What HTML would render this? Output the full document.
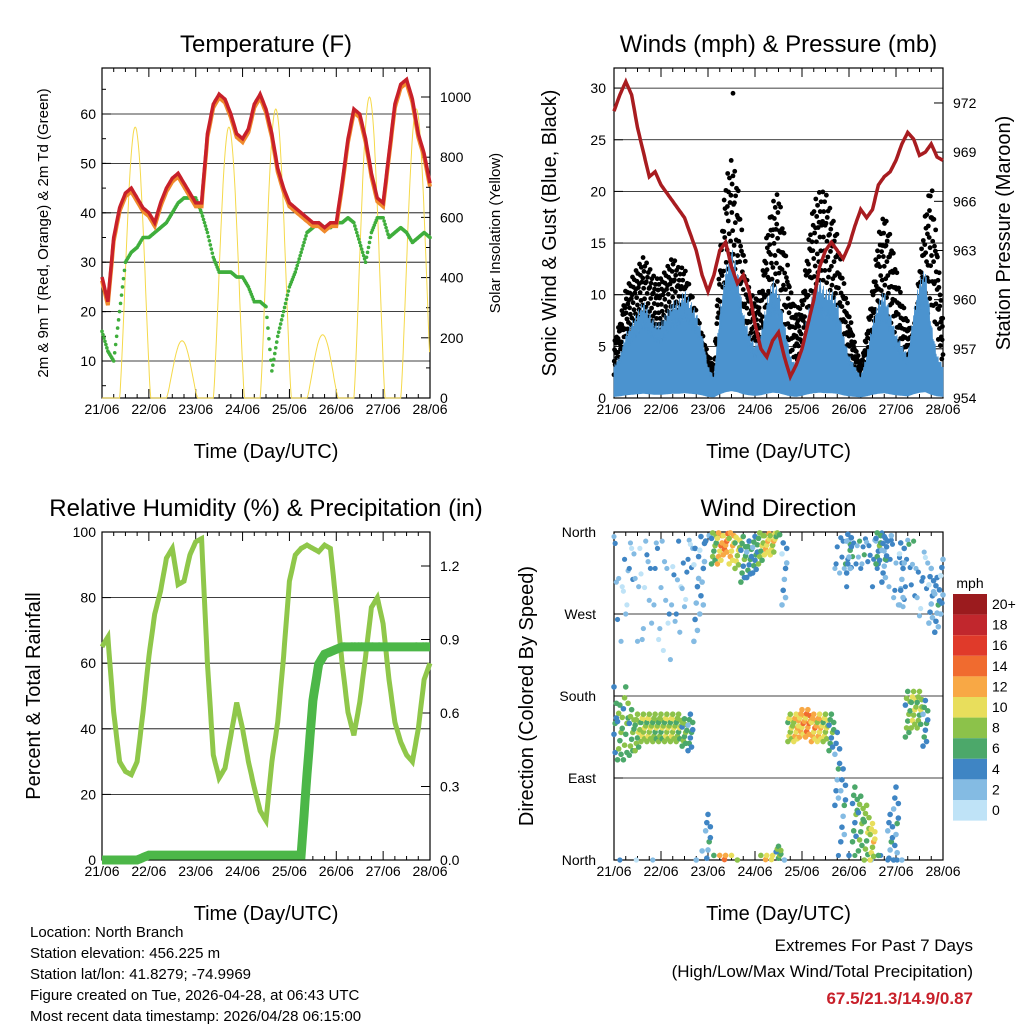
<!DOCTYPE html>
<html><head><meta charset="utf-8"><style>
body{margin:0;background:#fff;width:1024px;height:1024px;overflow:hidden;font-family:"Liberation Sans",sans-serif}
svg text{font-family:"Liberation Sans",sans-serif}
</style></head><body>
<svg id="s" width="1024" height="1024" xmlns="http://www.w3.org/2000/svg"></svg>
<script>
// ---- data (3-hourly samples, 21/06 00UTC .. 28/06 00UTC, 57 samples) ----
const dayLabels=["21/06","22/06","23/06","24/06","25/06","26/06","27/06","28/06"];
const tempRed=[27,22,35,41,44,45,43,41,40,38,42,45,47,48,46,44,42,42,56,62,64,63,60,56,55,57,62,64,61,56,49,45,42,41,40,39,38,38,37,38,38,46,55,61,60,55,48,43,42,52,62,66,67,63,56,52,46];
const dewGreen=[16,12,10,20,30,32,33,35,35,36,37,38,40,42,43,43,43,40,36,31,28,28,28,27,27,25,22,22,21,8,15,20,25,28,32,36,37,38,37,37,38,38,39,38,34,30,36,39,39,35,36,37,36,34,35,36,35];
const solarPeak=[900,190,900,960,210,1000,960];
const windMean=[3,4,6,7,8,9,8,7,7,8,9,9,10,9,8,6,3,2,8,12,14,12,8,6,5,6,9,11,10,7,4,3,5,8,10,11,10,10,9,6,4,3,2,4,7,9,10,8,6,5,4,8,11,12,7,4,3];
const windGust=[5,7,10,11,12,13,12,11,11,12,13,12,12,10,8,6,4,3,13,20,22,20,14,10,9,10,15,18,19,15,10,8,9,14,18,19,19,17,15,11,8,5,3,6,10,15,17,15,12,9,7,6,12,17,20,14,7];
const pressure=[971.5,972.5,973.3,972.5,970.5,969,967.5,967.8,967,966.5,966,965.5,965,964,963,961.5,960.5,961.5,963,963.5,962,961,961.5,960.5,958.5,957,956.5,957.5,958,956.5,955.3,956,957,958.5,960,962,963,963.5,963,962.5,963.3,964.5,965.5,965,965.5,967,967.5,967.8,968.5,969.5,970.2,969.8,968.8,969,969.5,968.7,968.5];
const rh=[65,68,45,30,27,26,30,45,62,75,82,92,95,84,85,93,97,98,60,32,25,28,38,48,40,30,22,15,12,30,42,62,85,93,95,96,95,94,96,95,78,60,45,38,48,62,77,80,72,55,42,36,32,30,40,55,60];
const precip=[0,0,0,0,0,0,0,0.01,0.02,0.02,0.02,0.02,0.02,0.02,0.02,0.02,0.02,0.02,0.02,0.02,0.02,0.02,0.02,0.02,0.02,0.02,0.02,0.02,0.02,0.02,0.02,0.02,0.02,0.02,0.02,0.35,0.65,0.8,0.84,0.85,0.86,0.87,0.87,0.87,0.87,0.87,0.87,0.87,0.87,0.87,0.87,0.87,0.87,0.87,0.87,0.87,0.87];
const dirCenter=[150,140,150,140,140,145,145,145,145,145,145,145,140,140,300,320,20,345,345,350,345,340,330,330,335,345,350,350,5,320,145,145,150,150,145,145,145,140,100,60,340,50,40,30,20,345,330,20,40,320,160,165,165,150,290,280,300];
const dirSpread=[40,30,40,25,20,15,15,15,15,15,15,15,15,20,60,50,30,20,20,15,20,20,25,20,20,20,15,15,10,40,15,15,15,15,15,15,15,20,40,40,25,30,30,30,20,20,25,30,40,40,25,20,20,25,30,30,30];
const dirSpeed=[4,6,6,6,7,8,8,7,7,8,8,7,6,4,2,2,3,6,11,12,10,8,5,4,4,7,10,9,6,2,8,10,11,12,11,10,8,5,3,3,3,5,6,7,9,5,3,3,3,2,6,8,7,4,2,3,2];
// secondary (sparse, light) direction mode; null = none
const dir2Center=[320,300,310,320,300,290,300,320,290,300,280,300,310,330,null,null,null,null,null,null,null,null,null,null,null,null,null,null,null,null,null,null,null,null,null,null,null,null,340,340,330,345,340,335,330,340,345,330,320,310,330,320,300,310,null,null,null];
const dir2Spread=[50,60,50,40,60,60,50,40,60,50,60,50,40,30,0,0,0,0,0,0,0,0,0,0,0,0,0,0,0,0,0,0,0,0,0,0,0,0,25,25,30,20,25,25,30,25,20,30,40,40,30,30,40,40,0,0,0];
const dir2Speed=[2,2,1,2,1,1,2,2,1,1,1,2,2,2,0,0,0,0,0,0,0,0,0,0,0,0,0,0,0,0,0,0,0,0,0,0,0,0,3,3,3,4,3,3,3,3,3,3,2,2,3,3,2,2,0,0,0];
const cbLabels=["20+","18","16","14","12","10","8","6","4","2","0"];
const cbColors=["#9b1b1e","#c1272d","#e03a2a","#f06b2f","#f8a845","#e8de5c","#8cc24a","#4ca86a","#3f85c4","#84bbe3","#bfe3f7"];

const S=document.getElementById('s');const NS="http://www.w3.org/2000/svg";
function el(tag,attrs,parent,name,txt){const e=document.createElementNS(NS,tag);for(const k in attrs)e.setAttribute(k,attrs[k]);


if(txt!==undefined)e.textContent=txt;(parent||S).appendChild(e);return e;}
function txt(x,y,s,size,anchor,name,extra){const a={x:x,y:y,'font-size':size,'text-anchor':anchor||'middle',fill:'#000'};Object.assign(a,extra||{});return el('text',a,S,name,s);}
const N=57,step=1/8;
function interp(arr,t){const f=t/step;const i=Math.max(0,Math.min(Math.floor(f),N-2));const r=f-i;return arr[i]*(1-r)+arr[i+1]*r;}

function panel(x0,y0,x1,y1,name,title,ylab,ylabX,ylabSize){
  const g=el('g',{},S,name);
  el('rect',{x:x0,y:y0,width:x1-x0,height:y1-y0,fill:'none',stroke:'#000','stroke-width':1.2},g,name+'-frame');
  txt((x0+x1)/2,y0-16,title,24,'middle',name+'-title');
  const cy=(y0+y1)/2;
  txt(ylabX,cy,ylab,ylabSize,'middle',name+'-y-axis-title',{transform:`rotate(-90 ${ylabX} ${cy})`});
  const xs=t=>x0+t*(x1-x0)/7;
  for(let d=0;d<=7;d++){const x=xs(d);
    el('line',{x1:x,y1:y1,x2:x,y2:y1-9,stroke:'#000'},g,'x-tick');
    el('line',{x1:x,y1:y0,x2:x,y2:y0+9,stroke:'#000'},g,'x-tick-top');
    txt(x,y1+16,dayLabels[d],14,'middle','x-tick-label');
    if(d<7)for(let q=1;q<4;q++){const xm=xs(d+q/4);el('line',{x1:xm,y1:y1,x2:xm,y2:y1-4,stroke:'#000'},g,'x-minor-tick');el('line',{x1:xm,y1:y0,x2:xm,y2:y0+4,stroke:'#000'},g,'x-minor-tick-top');}
  }
  txt((x0+x1)/2,y1+60,'Time (Day/UTC)',20,'middle',name+'-x-axis-title');
  return xs;
}
function hgrid(x0,x1,y,name){el('line',{x1:x0,y1:y,x2:x1,y2:y,stroke:'#000','stroke-width':0.8},S,name);}
function ytick(x,y,dir,len){el('line',{x1:x,y1:y,x2:x+dir*len,y2:y,stroke:'#000'},S,'y-tick');}
function poly(pts,attrs,name){return el('polyline',Object.assign({points:pts.map(p=>p[0].toFixed(1)+','+p[1].toFixed(1)).join(' '),fill:'none'},attrs),S,name);}

// ---------- Panel 1: Temperature ----------
{const X0=102,Y0=68,X1=430,Y1=398;
const xs=panel(X0,Y0,X1,Y1,'temperature-panel','Temperature (F)','2m & 9m T (Red, Orange) & 2m Td (Green)',48,15);
const yL=v=>410.4-v*4.94, yR=s=>398-s*0.301;
for(let v=10;v<=60;v+=10){hgrid(X0,X1,yL(v),'grid-line');txt(X0-6,yL(v)+5,String(v),14,'end','y-tick-label');ytick(X0,yL(v),1,9);}
for(let v=5;v<=65;v+=5)ytick(X0,yL(v),1,4);
for(let s=0;s<=1000;s+=200){txt(X1+10,yR(s)+5,String(s),14,'start','y2-tick-label');ytick(X1,yR(s),-1,9);}
for(let s=100;s<=1000;s+=200)ytick(X1,yR(s),-1,4);
txt(500,233,'Solar Insolation (Yellow)',15,'middle','y2-axis-title',{transform:'rotate(-90 500 233)'});
const sp=[];for(let d=0;d<7;d++){for(let h=0;h<24;h+=0.25){const t=d+h/24;let pk=solarPeak[d];let v=0;
 if(h>=9)v=pk*Math.pow(Math.max(0,Math.sin(Math.PI*(h-9)/16)),1.3);else if(d>0&&h<1)v=solarPeak[d-1]*Math.pow(Math.max(0,Math.sin(Math.PI*(h+15)/16)),1.3);
 sp.push([xs(t),yR(v)]);}}
poly(sp,{stroke:'#f5d94a','stroke-width':1},'solar-line');
const dp=[];for(let t=0;t<=7;t+=1/48)dp.push([xs(t),yL(interp(dewGreen,t))]);
dp.forEach(p=>el('circle',{cx:p[0],cy:p[1],r:1.8,fill:'#3fae3c'},S,'dewpoint-point'));
const op=[],rp=[];for(let t=0;t<=7;t+=1/48){const v=interp(tempRed,t);op.push([xs(t),yL(v-0.7)]);rp.push([xs(t),yL(v)]);}
poly(op,{stroke:'#f08a2c','stroke-width':4},'temp-9m-line');
poly(rp,{stroke:'#c8202a','stroke-width':3.5},'temp-2m-line');}

// ---------- Panel 2: Winds & Pressure ----------
{const X0=614,Y0=68,X1=943,Y1=398;
const xs=panel(X0,Y0,X1,Y1,'winds-panel','Winds (mph) & Pressure (mb)','Sonic Wind & Gust (Blue, Black)',556,20);
const yL=v=>398-v*10.33, yR=p=>398-(p-954)*16.39;
for(let v=5;v<=30;v+=5)hgrid(X0,X1,yL(v),'grid-line');
for(let v=0;v<=30;v+=5){txt(X0-8,yL(v)+5,String(v),14,'end','y-tick-label');ytick(X0,yL(v),1,9);}
for(let p=954;p<=972;p+=3){txt(X1+10,yR(p)+5,String(p),14,'start','y2-tick-label');ytick(X1,yR(p),-1,9);}
txt(1010,233,'Station Pressure (Maroon)',20,'middle','y2-axis-title',{transform:'rotate(-90 1010 233)'});
const fr=[0.45,0.7,0.9,1.05,0.6,0.82,0.95,0.5,0.75,1.0,0.65,0.88];
for(let k=0;k<=7*160;k++){const t=k/160;const g=interp(windGust,t);
 el('circle',{cx:xs(t),cy:yL(g*fr[k%12]),r:2.4,fill:'#000'},S,'gust-point');}
el('circle',{cx:733,cy:yL(29.5),r:2.4,fill:'#000'},S,'gust-outlier');
const top=[],bot=[];const jt=[1,0.8,1.05,0.75,0.95,0.85];
for(let k=0;k<=7*96;k++){const t=k/96;const w=interp(windMean,t);top.push([xs(t),yL(w*jt[k%6])]);bot.unshift([xs(t),yL(w*0.05)]);}
el('polygon',{points:top.concat(bot).map(p=>p[0].toFixed(1)+','+p[1].toFixed(1)).join(' '),fill:'#4b93cf',stroke:'#4b93cf','stroke-width':0.8},S,'wind-band');
const pp=[];for(let t=0;t<=7;t+=1/48)pp.push([xs(t),yR(interp(pressure,t))]);
poly(pp,{stroke:'#a81c20','stroke-width':3.5},'pressure-line');}

// ---------- Panel 3: RH & Precip ----------
{const X0=102,Y0=532,X1=430,Y1=860;
const xs=panel(X0,Y0,X1,Y1,'humidity-panel','Relative Humidity (%) & Precipitation (in)','Percent & Total Rainfall',40,20);
const yL=v=>860-v*3.28, yR=p=>860-p*245;
for(let v=20;v<=100;v+=20)hgrid(X0,X1,yL(v),'grid-line');
for(let v=0;v<=100;v+=20){txt(X0-6,yL(v)+5,String(v),14,'end','y-tick-label');ytick(X0,yL(v),1,9);}
for(let p=0;p<=1.2;p+=0.3){txt(X1+10,yR(p)+5,p.toFixed(1),14,'start','y2-tick-label');ytick(X1,yR(p),-1,9);}
const rp=[];for(let t=0;t<=7;t+=1/48)rp.push([xs(t),yL(interp(rh,t))]);
poly(rp,{stroke:'#8fc74a','stroke-width':5},'rh-line');
const pp=[];for(let t=0;t<=7;t+=1/48)pp.push([xs(t),yR(interp(precip,t))]);
poly(pp,{stroke:'#4cb748','stroke-width':9},'precip-line');}

// ---------- Panel 4: Wind Direction ----------
{const X0=614,Y0=532,X1=943,Y1=860;
const xs=panel(X0,Y0,X1,Y1,'direction-panel','Wind Direction','Direction (Colored By Speed)',533,20);
const yD=d=>860-d*(328/360);
const dl=["North","East","South","West","North"];
for(let i=0;i<=4;i++){const y=yD(i*90);if(i>0&&i<4)hgrid(X0,X1,y,'grid-line');txt(X0-18,y+5,dl[i],14,'end','y-tick-label');ytick(X0,y,1,9);}
const off=[-1,-0.6,-0.3,0,0.15,0.4,0.7,1,-0.8,0.55];
const sv=[0,1,-1,2,0,-2,1,0,-1,1];
function col(s){const idx=Math.max(0,Math.min(10,10-Math.round(s/2)));return cbColors[idx];}
for(let i=0;i<N;i++){if(dir2Center[i]===null)continue;for(let j=0;j<5;j++){const t=(i+j/5-0.4)/8;if(t<0||t>7)continue;
 let d=dir2Center[i]+dir2Spread[i]*off[(j*3+i)%10];d=((d%360)+360)%360;
 el('circle',{cx:xs(t),cy:yD(d),r:2.6,fill:col(dir2Speed[i]+sv[(j+i)%10])},S,'direction-point-secondary');}}
for(let i=0;i<N;i++){for(let j=0;j<10;j++){const t=(i+(j%5)/5-0.4)/8;if(t<0||t>7)continue;
 let d=dirCenter[i]+dirSpread[i]*off[j];d=((d%360)+360)%360;
 el('circle',{cx:xs(t),cy:yD(d),r:2.8,fill:col(dirSpeed[i]+sv[j])},S,'direction-point');}}
txt(970,588,'mph',14,'middle','colorbar-title');
for(let k=0;k<11;k++){const y=594+k*20.6;
 el('rect',{x:953,y:y,width:34,height:20.6,fill:cbColors[k]},S,'colorbar-box');
 txt(992,y+15,cbLabels[k],14,'start','colorbar-label');}}

// ---------- footer ----------
const info=["Location: North Branch","Station elevation: 456.225 m","Station lat/lon: 41.8279; -74.9969","Figure created on Tue, 2026-04-28, at 06:43 UTC","Most recent data timestamp: 2026/04/28 06:15:00"];
info.forEach((s,i)=>txt(30,937+i*21,s,15,'start','station-info-line'));
txt(973,951,'Extremes For Past 7 Days',17,'end','extremes-title');
txt(973,977,'(High/Low/Max Wind/Total Precipitation)',17,'end','extremes-subtitle');
txt(973,1004,'67.5/21.3/14.9/0.87',17,'end','extremes-values',{fill:'#c8202a','font-weight':'bold'});
</script>
</body></html>
